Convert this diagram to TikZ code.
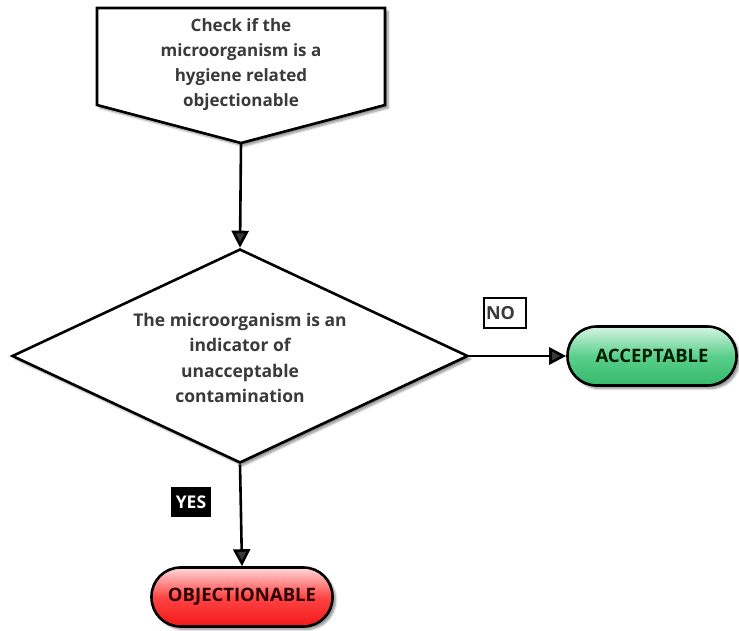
\documentclass[tikz,border=0pt]{standalone}
\usepackage{fontspec}
\setmainfont{Open Sans}
\usetikzlibrary{shapes.geometric,arrows.meta,shadows.blur}
\definecolor{txtgray}{HTML}{3A3A3A}
\definecolor{gtop}{HTML}{D6F5E2}
\definecolor{gmid}{HTML}{5ACF8C}
\definecolor{gbot}{HTML}{36B86C}
\definecolor{rtop}{HTML}{FFD8D8}
\definecolor{rmid}{HTML}{FF4545}
\definecolor{rbot}{HTML}{F21818}
\begin{document}
\begin{tikzpicture}[x=1pt,y=-1pt,
  txt/.style={font=\bfseries\fontsize{17.5}{25.5}\selectfont, text=txtgray, align=center},
  outline/.style={draw=black, line width=2.6pt, line join=miter},
  sh/.style={blur shadow={shadow xshift=3pt, shadow yshift=-3pt, shadow blur steps=6, shadow opacity=45}},
  arr/.style={line width=2.6pt, -{Triangle[length=17pt,width=17pt]}},
  pill/.style={outline, rounded corners=29pt, minimum height=59pt, inner sep=0pt,
               font=\bfseries\fontsize{18.5}{21}\selectfont, sh},
  lab/.style={font=\bfseries\fontsize{17.5}{20}\selectfont, minimum height=30pt, inner sep=0pt}
]
\useasboundingbox (0,0) rectangle (739,630);

% top off-page connector shape
\draw[outline, fill=white, sh] (97,8) -- (385,8) -- (385,105) -- (241,143) -- (97,105) -- cycle;
\node[txt, font=\bfseries\fontsize{17}{25}\selectfont] (check) at (241,65) {Check if the\\microorganism is a\\hygiene related\\objectionable};
\coordinate (checktip) at (241,143);

% decision diamond
\node[diamond, outline, fill=white, sh, aspect=2.13, minimum width=456pt, minimum height=214pt, inner sep=0pt] (dec) at (240,356) {};
\node[txt] (dectext) at (240,358) {The microorganism is an\\indicator of\\unacceptable\\contamination};

% outcomes
\node[pill, top color=gtop, bottom color=gbot, middle color=gmid, text=black!80!green!60!black, minimum width=169pt] (acc) at (652,356) {ACCEPTABLE};
\node[pill, top color=rtop, bottom color=rbot, middle color=rmid, text=black!75!red!70!black, minimum width=181pt] (obj) at (242,597) {OBJECTIONABLE};

% labels
\node[lab, draw=black, line width=1.6pt, fill=white, text=txtgray, text width=38pt, inner xsep=2pt, align=left, font=\bfseries\fontsize{18}{20}\selectfont] (no) at (505,313) {NO};
\node[lab, fill=black, text=white, minimum width=40pt] (yes) at (191,502) {YES};

% connectors
\draw[arr] (checktip) -- (dec.north);
\draw[arr] (dec.east) -- (acc.west);
\draw[arr] (dec.south) -- (obj.north);
\end{tikzpicture}
\end{document}
